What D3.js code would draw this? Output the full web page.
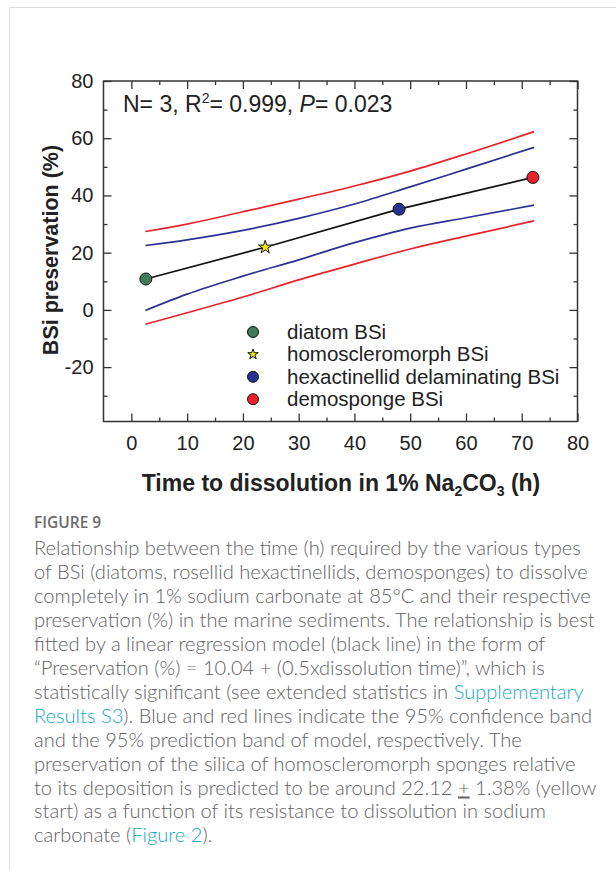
<!DOCTYPE html>
<html>
<head>
<meta charset="utf-8">
<script src="https://cdn.jsdelivr.net/npm/d3@7"></script>
<style>
  body { margin: 0; background: #fff; }
  svg { display: block; }
</style>
</head>
<body>
<svg id="fig" width="616" height="870"></svg>
<script>
// measured points
const groupNames = ["diatom BSi", "homoscleromorph BSi", "hexactinellid delaminating BSi", "demosponge BSi"];
const groupTime = [2.6, 24, 48, 72];
const groupPreservation = [10.8, 21.9, 35.2, 46.3];
const groupColors = ["#3e7a5b", "#f3e600", "#2b3190", "#e8212b"];
const groupShapes = ["circle", "star", "circle", "circle"];

// bands
const bandTime = [2.5, 10, 20, 30, 40, 50, 60, 72.2];
const predUpper = [27.4, 30.0, 34.3, 38.7, 43.3, 48.5, 54.5, 62.3];
const confUpper = [22.5, 24.5, 27.8, 32.0, 37.0, 43.0, 49.2, 56.8];
const confLower = [-0.2, 5.5, 11.8, 17.5, 23.5, 28.6, 32.2, 36.6];
const predLower = [-5.0, -1.0, 4.5, 10.5, 16.0, 21.3, 25.8, 31.1];

const xMajor = [0, 10, 20, 30, 40, 50, 60, 70, 80];
const xMinor = [5, 15, 25, 35, 45, 55, 65, 75];
const yMajor = [-20, 0, 20, 40, 60, 80];
const yMinor = [-30, -10, 10, 30, 50, 70];

const captionTitle = "FIGURE 9";
const captionLines = [
  [["Relationship between the time (h) required by the various types"]],
  [["of BSi (diatoms, rosellid hexactinellids, demosponges) to dissolve"]],
  [["completely in 1% sodium carbonate at 85°C and their respective"]],
  [["preservation (%) in the marine sediments. The relationship is best"]],
  [["fitted by a linear regression model (black line) in the form of"]],
  [["\u201CPreservation (%) = 10.04 + (0.5xdissolution time)\u201D, which is"]],
  [["statistically significant (see extended statistics in "], ["Supplementary", "link"]],
  [["Results S3", "link"], ["). Blue and red lines indicate the 95% confidence band"]],
  [["and the 95% prediction band of model, respectively. The"]],
  [["preservation of the silica of homoscleromorph sponges relative"]],
  [["to its deposition is predicted to be around 22.12 "], ["+", "under"], [" 1.38% (yellow"]],
  [["start) as a function of its resistance to dissolution in sodium"]],
  [["carbonate ("], ["Figure 2", "link"], [")."]]
];

const svg = d3.select("#fig");
const chartFont = "'Liberation Sans', Arial, sans-serif";
const ink = "#222";

// card border
svg.append("path")
  .attr("d", "M9.5,870 V7.5 H616")
  .attr("fill", "none")
  .attr("stroke", "#dcdcdc")
  .attr("stroke-width", 1);

const x0 = 103.5, x1 = 577.5, y0 = 81, y1 = 421.5;
const x = d3.scaleLinear().domain([-5, 80]).range([x0, x1]);
const y = d3.scaleLinear().domain([-39, 80]).range([y1, y0]);

const plot = svg.append("g");

function styleAxis(g) {
  g.select(".domain").remove();
  g.selectAll(".tick line").attr("stroke", "#333").attr("stroke-width", 1.3);
  g.selectAll(".tick text").attr("fill", ink).attr("font-size", 20).attr("font-family", chartFont);
}

const fmt = d => String(d);
plot.append("g").attr("transform", `translate(${x0},0)`)
  .call(d3.axisLeft(y).tickValues(yMajor).tickSize(-8).tickPadding(10).tickFormat(fmt)).call(styleAxis);
plot.append("g").attr("transform", `translate(${x0},0)`)
  .call(d3.axisLeft(y).tickValues(yMinor).tickSize(-4).tickFormat("")).call(styleAxis);
plot.append("g").attr("transform", `translate(${x1},0)`)
  .call(d3.axisRight(y).tickValues(yMajor).tickSize(-8).tickFormat("")).call(styleAxis);
plot.append("g").attr("transform", `translate(${x1},0)`)
  .call(d3.axisRight(y).tickValues(yMinor).tickSize(-4).tickFormat("")).call(styleAxis);
plot.append("g").attr("transform", `translate(0,${y1})`)
  .call(d3.axisBottom(x).tickValues(xMajor).tickSize(-8).tickPadding(14).tickFormat(fmt)).call(styleAxis);
plot.append("g").attr("transform", `translate(0,${y1})`)
  .call(d3.axisBottom(x).tickValues(xMinor).tickSize(-4).tickFormat("")).call(styleAxis);
plot.append("g").attr("transform", `translate(0,${y0})`)
  .call(d3.axisTop(x).tickValues(xMajor).tickSize(-8).tickFormat("")).call(styleAxis);
plot.append("g").attr("transform", `translate(0,${y0})`)
  .call(d3.axisTop(x).tickValues(xMinor).tickSize(-4).tickFormat("")).call(styleAxis);

plot.append("rect")
  .attr("x", x0).attr("y", y0)
  .attr("width", x1 - x0).attr("height", y1 - y0)
  .attr("fill", "none").attr("stroke", "#333").attr("stroke-width", 1.5);

// bands
const band = d3.line().x(d => x(d[0])).y(d => y(d[1])).curve(d3.curveMonotoneX);
const bands = [
  [predUpper, "#e8232b"], [confUpper, "#2e3192"],
  [confLower, "#2e3192"], [predLower, "#e8232b"]
];
bands.forEach(([vals, col]) => {
  plot.append("path")
    .datum(bandTime.map((t, i) => [t, vals[i]]))
    .attr("d", band)
    .attr("fill", "none")
    .attr("stroke", col)
    .attr("stroke-width", 1.7);
});

// regression line through the points
plot.append("path")
  .datum(groupTime.map((t, i) => [t, groupPreservation[i]]))
  .attr("d", d3.line().x(d => x(d[0])).y(d => y(d[1])))
  .attr("fill", "none")
  .attr("stroke", "#111")
  .attr("stroke-width", 1.7);

function drawMarker(g, shape, color, cx, cy, r) {
  if (shape === "star") {
    // d3 star: outer radius^2 ~ 0.89 * area
    g.append("path")
      .attr("d", d3.symbol(d3.symbolStar, r * r / 0.89)())
      .attr("transform", `translate(${cx},${cy})`)
      .attr("fill", color).attr("stroke", "#111").attr("stroke-width", 1);
  } else {
    g.append("circle")
      .attr("cx", cx).attr("cy", cy).attr("r", r)
      .attr("fill", color).attr("stroke", "#111").attr("stroke-width", 1);
  }
}

groupTime.forEach((t, i) => {
  drawMarker(plot, groupShapes[i], groupColors[i], x(t), y(groupPreservation[i]), groupShapes[i] === "star" ? 7 : 6);
});

// stats annotation
const note = plot.append("text")
  .attr("x", 123).attr("y", 112)
  .attr("font-family", chartFont).attr("font-size", 23).attr("fill", ink);
note.append("tspan").text("N= 3, R");
note.append("tspan").attr("font-size", 14).attr("dy", -9).text("2");
note.append("tspan").attr("dy", 9).text("= 0.999, ");
note.append("tspan").attr("font-style", "italic").text("P");
note.append("tspan").text("= 0.023");

// legend
const legend = plot.append("g");
groupNames.forEach((name, i) => {
  const ly = 332 + i * 22.4;
  drawMarker(legend, groupShapes[i], groupColors[i], 253, ly, 5.5);
  legend.append("text")
    .attr("x", 287).attr("y", ly + 7)
    .attr("font-family", chartFont).attr("font-size", 20.5).attr("fill", ink)
    .text(name);
});

// axis titles
const xt = svg.append("text")
  .attr("x", 341).attr("y", 491)
  .attr("text-anchor", "middle")
  .attr("font-family", chartFont).attr("font-size", 23).attr("font-weight", "bold").attr("fill", ink);
xt.append("tspan").text("Time to dissolution in 1% Na");
xt.append("tspan").attr("font-size", 14).attr("dy", 5).text("2");
xt.append("tspan").attr("dy", -5).text("CO");
xt.append("tspan").attr("font-size", 14).attr("dy", 5).text("3");
xt.append("tspan").attr("dy", -5).text(" (h)");

svg.append("text")
  .attr("transform", "translate(58,250) rotate(-90)")
  .attr("text-anchor", "middle")
  .attr("font-family", chartFont).attr("font-size", 21.5).attr("font-weight", "bold").attr("fill", ink)
  .text("BSi preservation (%)");

// caption
const capFont = "Lato, 'Open Sans', sans-serif";
svg.append("text")
  .attr("x", 34).attr("y", 528)
  .attr("font-family", "'Open Sans', sans-serif").attr("font-size", 15.5).attr("font-weight", 600).attr("fill", "#6b6b6b")
  .text(captionTitle);

captionLines.forEach((parts, i) => {
  const t = svg.append("text")
    .attr("x", 34).attr("y", 555 + i * 23.95)
    .attr("font-family", capFont).attr("font-size", 20.1).attr("font-weight", 300).attr("fill", "#626262");
  parts.forEach(([s, kind]) => {
    const sp = t.append("tspan").text(s);
    if (kind === "link") sp.attr("fill", "#1ba8c2");
    if (kind === "under") sp.attr("text-decoration", "underline");
  });
});
</script>
</body>
</html>
